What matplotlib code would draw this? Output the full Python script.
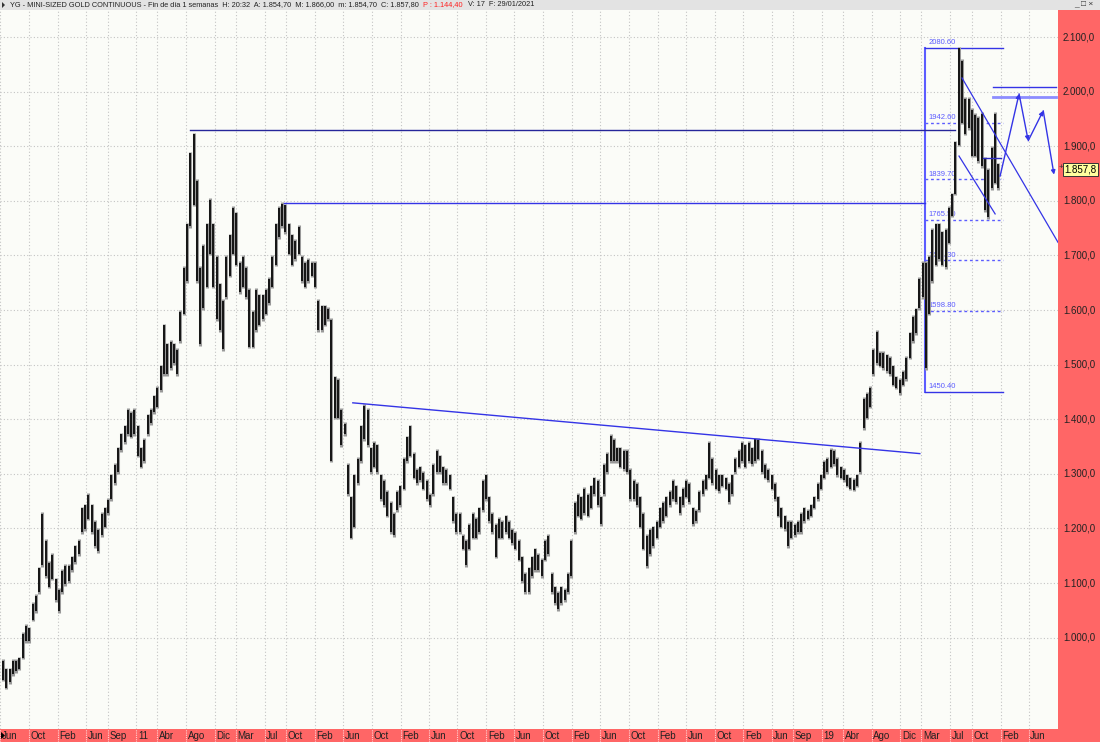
import matplotlib
matplotlib.use('Agg')
import matplotlib.pyplot as plt
from matplotlib.patches import Rectangle
import numpy as np

plt.rcParams['font.family'] = ['Liberation Sans', 'DejaVu Sans']

# YG mini-sized gold, weekly chart.
# One bar per two weeks, (low, high), starting 2009-06-12.
start = np.datetime64('2009-06-12')
bar_days = 14

bars_2009 = [(920, 960), (905, 945), (915, 945), (930, 960), (935, 960), (940, 965),
             (960, 1010), (990, 1025), (990, 1020), (1030, 1065), (1045, 1080),
             (1080, 1130), (1130, 1230), (1110, 1180), (1090, 1140)]
bars_2010 = [(1105, 1155), (1065, 1110), (1045, 1090), (1080, 1125), (1095, 1135),
             (1100, 1135), (1120, 1150), (1135, 1170), (1150, 1180), (1190, 1240),
             (1195, 1245), (1215, 1265), (1190, 1245), (1165, 1215), (1155, 1200),
             (1185, 1230), (1200, 1240), (1225, 1255), (1250, 1300), (1280, 1320),
             (1300, 1350), (1340, 1375), (1355, 1390), (1370, 1420), (1365, 1415),
             (1370, 1420)]
bars_2011 = [(1330, 1390), (1310, 1350), (1320, 1365), (1370, 1410), (1390, 1420),
             (1410, 1445), (1420, 1460), (1450, 1500), (1480, 1575), (1480, 1540),
             (1490, 1545), (1500, 1540), (1480, 1530), (1540, 1600), (1590, 1680),
             (1650, 1760), (1750, 1890), (1790, 1925), (1650, 1840), (1535, 1680),
             (1600, 1720), (1640, 1760), (1700, 1805), (1640, 1760), (1580, 1700),
             (1560, 1650)]
bars_2012 = [(1525, 1620), (1620, 1700), (1660, 1740), (1700, 1790), (1680, 1780),
             (1630, 1690), (1640, 1700), (1620, 1680), (1530, 1640), (1530, 1600),
             (1560, 1640), (1570, 1630), (1580, 1630), (1590, 1640), (1610, 1660),
             (1640, 1700), (1680, 1760), (1730, 1790), (1750, 1797), (1740, 1795),
             (1700, 1760), (1680, 1740), (1690, 1730), (1700, 1755), (1650, 1700),
             (1640, 1690)]
bars_2013 = [(1650, 1695), (1660, 1690), (1640, 1690), (1560, 1620), (1560, 1610),
             (1570, 1610), (1580, 1605), (1321, 1585), (1400, 1480), (1400, 1475),
             (1350, 1420), (1370, 1395), (1260, 1320), (1180, 1260), (1200, 1300),
             (1280, 1330), (1320, 1390), (1360, 1428), (1350, 1420), (1300, 1350),
             (1310, 1360), (1300, 1355), (1250, 1300), (1240, 1290), (1220, 1270),
             (1190, 1250)]
bars_2014 = [(1185, 1230), (1230, 1270), (1240, 1280), (1270, 1330), (1320, 1370),
             (1330, 1390), (1290, 1340), (1280, 1310), (1285, 1315), (1270, 1305),
             (1250, 1290), (1240, 1265), (1260, 1320), (1300, 1345), (1300, 1335),
             (1280, 1315), (1280, 1310), (1270, 1300), (1210, 1260), (1190, 1230),
             (1190, 1230), (1160, 1190), (1130, 1180), (1160, 1210), (1180, 1230),
             (1180, 1220)]
bars_2015 = [(1190, 1240), (1230, 1290), (1250, 1300), (1210, 1260), (1190, 1230),
             (1145, 1210), (1180, 1220), (1180, 1215), (1190, 1225), (1180, 1215),
             (1170, 1200), (1160, 1195), (1140, 1180), (1100, 1150), (1080, 1120),
             (1080, 1130), (1110, 1150), (1120, 1165), (1120, 1155), (1110, 1145),
             (1140, 1180), (1150, 1190), (1080, 1120), (1060, 1095), (1049, 1085),
             (1060, 1095)]
bars_2016 = [(1065, 1090), (1080, 1120), (1110, 1180), (1190, 1250), (1220, 1265),
             (1215, 1260), (1225, 1275), (1220, 1265), (1235, 1280), (1260, 1295),
             (1240, 1290), (1205, 1260), (1260, 1320), (1300, 1340), (1320, 1372),
             (1320, 1365), (1320, 1350), (1310, 1350), (1305, 1345), (1300, 1345),
             (1250, 1310), (1250, 1290), (1240, 1285), (1200, 1260), (1160, 1230),
             (1128, 1190)]
bars_2017 = [(1150, 1200), (1165, 1205), (1180, 1215), (1200, 1240), (1210, 1250),
             (1220, 1260), (1240, 1270), (1250, 1290), (1245, 1280), (1225, 1260),
             (1240, 1275), (1255, 1290), (1245, 1285), (1205, 1240), (1210, 1235),
             (1230, 1270), (1260, 1290), (1270, 1300), (1290, 1360), (1280, 1330),
             (1270, 1310), (1265, 1300), (1275, 1300), (1270, 1295), (1245, 1285),
             (1260, 1300)]
bars_2018 = [(1300, 1330), (1310, 1345), (1320, 1360), (1310, 1355), (1320, 1360),
             (1315, 1350), (1320, 1366), (1325, 1365), (1300, 1345), (1290, 1320),
             (1285, 1310), (1270, 1300), (1250, 1285), (1220, 1260), (1200, 1240),
             (1195, 1225), (1165, 1215), (1180, 1215), (1185, 1210), (1190, 1215),
             (1190, 1230), (1210, 1240), (1215, 1235), (1220, 1245), (1235, 1260),
             (1250, 1285)]
bars_2019 = [(1270, 1300), (1290, 1325), (1300, 1330), (1310, 1347), (1315, 1345),
             (1295, 1330), (1290, 1315), (1285, 1310), (1275, 1300), (1270, 1295),
             (1268, 1292), (1275, 1300), (1300, 1360), (1380, 1440), (1400, 1450),
             (1420, 1460), (1480, 1530), (1500, 1563), (1495, 1525), (1490, 1525),
             (1485, 1520), (1480, 1515), (1460, 1500), (1455, 1480), (1445, 1475),
             (1460, 1490)]
bars_2020 = [(1470, 1515), (1510, 1560), (1540, 1590), (1555, 1604), (1600, 1660),
             (1620, 1690), (1490, 1690), (1590, 1700), (1650, 1750), (1680, 1760),
             (1690, 1760), (1680, 1745), (1675, 1750), (1720, 1790), (1770, 1815),
             (1810, 1910), (1900, 2082), (1940, 2060), (1920, 1990), (1930, 1990),
             (1880, 1970), (1880, 1960), (1870, 1955), (1860, 1962), (1780, 1880),
             (1767, 1860), (1820, 1900)]
bars_2021 = [(1830, 1962), (1820, 1870)]

month_ticks = [('2009-06-01', 'Jun'), ('2009-10-01', 'Oct'), ('2010-02-01', 'Feb'),
               ('2010-06-01', 'Jun'), ('2010-09-01', 'Sep'), ('2011-01-01', '11'),
               ('2011-04-01', 'Abr'), ('2011-08-01', 'Ago'), ('2011-12-01', 'Dic'),
               ('2012-03-01', 'Mar'), ('2012-07-01', 'Jul'), ('2012-10-01', 'Oct'),
               ('2013-02-01', 'Feb'), ('2013-06-01', 'Jun'), ('2013-10-01', 'Oct'),
               ('2014-02-01', 'Feb'), ('2014-06-01', 'Jun'), ('2014-10-01', 'Oct'),
               ('2015-02-01', 'Feb'), ('2015-06-01', 'Jun'), ('2015-10-01', 'Oct'),
               ('2016-02-01', 'Feb'), ('2016-06-01', 'Jun'), ('2016-10-01', 'Oct'),
               ('2017-02-01', 'Feb'), ('2017-06-01', 'Jun'), ('2017-10-01', 'Oct'),
               ('2018-02-01', 'Feb'), ('2018-06-01', 'Jun'), ('2018-09-01', 'Sep'),
               ('2019-01-01', '19'), ('2019-04-01', 'Abr'), ('2019-08-01', 'Ago'),
               ('2019-12-01', 'Dic'), ('2020-03-01', 'Mar'), ('2020-07-01', 'Jul'),
               ('2020-10-01', 'Oct'), ('2021-02-01', 'Feb'), ('2021-06-01', 'Jun')]
price_ticks = list(range(1000, 2101, 100))
view_dates = ('2009-05-30', '2021-10-04')
view_prices = (832.6, 2149.5)

# drawings on the chart
res_2011 = ('2011-08-19', '2020-07-22', 1930)
res_2012 = ('2012-09-22', '2020-03-17', 1796)
trend_13_20 = [('2013-07-12', 1430), ('2020-02-23', 1337)]
fib_dates = ('2020-03-17', '2021-02-12')
fib_levels = [2080.6, 1942.6, 1839.7, 1765.5, 1691.3, 1598.8, 1450.4]
small_level = ('2020-11-19', '2021-02-03', 1878)
channel_top = [('2020-08-21', 2025), ('2021-10-04', 1724)]
channel_bot = [('2020-08-08', 1882), ('2021-01-09', 1776)]
target_hi = ('2020-12-31', '2021-09-26', 2009)
target_lo = ('2020-12-31', '2021-09-26', 1991)
projection = [('2021-01-30', 1845), ('2021-04-21', 1996), ('2021-05-30', 1910),
              ('2021-08-02', 1965), ('2021-09-17', 1848)]
last_close = 1857.8

header = 'YG - MINI-SIZED GOLD CONTINUOUS - Fin de día 1 semanas  H: 20:32  A: 1.854,70  M: 1.866,00  m: 1.854,70  C: 1.857,80'
header_red = 'P : 1.144,40'
header_end = 'V: 17  F: 29/01/2021'


def pos(d):
    return (np.datetime64(d) - start) / np.timedelta64(bar_days, 'D')


def es_num(v):
    return f'{v:,.1f}'.replace(',', ' ').replace('.', ',').replace(' ', '.')


BLUE = '#3434e6'
FIB = '#5c5cff'

all_bars = (bars_2009 + bars_2010 + bars_2011 + bars_2012 + bars_2013 + bars_2014 +
            bars_2015 + bars_2016 + bars_2017 + bars_2018 + bars_2019 + bars_2020 + bars_2021)
lo = np.array([b[0] for b in all_bars])
hi = np.array([b[1] for b in all_bars])
x = np.arange(len(all_bars))

fig = plt.figure(figsize=(11, 7.42), dpi=100)
fig.patch.set_facecolor('#ff6666')
ax = fig.add_axes([0, 13 / 742, 1058 / 1100, 719 / 742])
ax.set_facecolor('#fbfcf8')
ax.set_xlim(pos(view_dates[0]), pos(view_dates[1]))
ax.set_ylim(*view_prices)
ax.set_xticks([])
ax.set_yticks([])
for s in ax.spines.values():
    s.set_visible(False)

# grid
for p in price_ticks:
    ax.axhline(p, color='#c4c4c4', lw=0.8, ls=(0, (1, 2)), zorder=0)
for d, lab in month_ticks:
    xp = pos(d)
    ax.axvline(xp, color='#c4c4c4', lw=0.8, ls=(0, (1, 2)), zorder=0)
    ax.plot([xp, xp], [-0.018, 0], transform=ax.get_xaxis_transform(), color='#ffd0d0',
            lw=0.8, ls=(0, (1, 1)), clip_on=False)
    ax.text(xp + 0.5, -0.0095, lab, transform=ax.get_xaxis_transform(), ha='left',
            va='center', fontsize=7, color='#222222', clip_on=False)

# price bars: grey halo + dark core
ax.vlines(x, lo, hi, color='#999999', lw=2.2, zorder=3)
ax.vlines(x, lo + 3, hi - 3, color='#141414', lw=1.4, zorder=3)

# horizontal resistances and trendline
ax.plot([pos(res_2011[0]), pos(res_2011[1])], [res_2011[2]] * 2, color='#26269a', lw=1, zorder=4)
ax.plot([pos(res_2012[0]), pos(res_2012[1])], [res_2012[2]] * 2, color=BLUE, lw=1, zorder=4)
ax.plot([pos(d) for d, _ in trend_13_20], [p for _, p in trend_13_20], color=BLUE, lw=1, zorder=4)

# fibonacci box
f0, f1 = pos(fib_dates[0]), pos(fib_dates[1])
ax.plot([f0, f0], [fib_levels[-1], fib_levels[0]], color=FIB, lw=1.5, zorder=2)
for i, lv in enumerate(fib_levels):
    solid = i in (0, len(fib_levels) - 1)
    ax.plot([f0, f1], [lv, lv], color=BLUE if solid else FIB, lw=1,
            ls='-' if solid else (0, (2, 2)), zorder=2)
    ax.text(f0 + 0.9, lv + 3, f'{lv:.2f}', color=FIB, fontsize=5.5, ha='left',
            va='bottom', zorder=2)

ax.plot([pos(small_level[0]), pos(small_level[1])], [small_level[2]] * 2, color='#2c2cc0', lw=1, zorder=4)
ax.plot([pos(d) for d, _ in channel_top], [p for _, p in channel_top], color=BLUE, lw=0.9, zorder=4)
ax.plot([pos(d) for d, _ in channel_bot], [p for _, p in channel_bot], color=BLUE, lw=0.9, zorder=4)
ax.plot([pos(target_hi[0]), pos(target_hi[1])], [target_hi[2]] * 2, color=BLUE, lw=1, zorder=4)
ax.plot([pos(target_lo[0]), pos(target_lo[1])], [target_lo[2]] * 2, color='#8c8cff', lw=2, zorder=4)

# projected path with arrows
for (d0, p0), (d1, p1) in zip(projection[:-1], projection[1:]):
    ax.annotate('', xy=(pos(d1), p1), xytext=(pos(d0), p0),
                arrowprops=dict(arrowstyle='-|>', color=BLUE, lw=1, mutation_scale=6,
                                shrinkA=0, shrinkB=0), zorder=4)

# right price scale
ytr = ax.get_yaxis_transform()
for p in price_ticks:
    ax.text(1.0047, p, es_num(p), transform=ytr, ha='left', va='center', fontsize=7,
            color='#222222', clip_on=False)
ax.text(1.0062, last_close, es_num(last_close), transform=ytr, ha='left', va='center',
        fontsize=7, color='black', clip_on=False,
        bbox=dict(boxstyle='square,pad=0.15', facecolor='#ffff9e', edgecolor='#333333', lw=0.7))
ax.text(1.0005, last_close + 4, '+', transform=ytr, ha='left', va='center', fontsize=6,
        color='#333333', clip_on=False)

# header bar
fig.patches.append(Rectangle((0, 732 / 742), 1, 10 / 742, transform=fig.transFigure,
                             facecolor='#e3e3e3', edgecolor='none', zorder=0))
hy = 737 / 742
t1 = fig.text(10 / 1100, hy, header, fontsize=5.35, color='#222222', va='center', ha='left')
fig.canvas.draw()
x1 = t1.get_window_extent().x1 + 4
t2 = fig.text(x1 / 1100, hy, header_red, fontsize=5.35, color='#ff2020', va='center', ha='left')
fig.canvas.draw()
x2 = t2.get_window_extent().x1 + 5
fig.text(x2 / 1100, hy, header_end, fontsize=5.35, color='#222222', va='center', ha='left')
fig.patches.append(plt.Polygon([[2 / 1100, 734 / 742], [2 / 1100, 740 / 742], [5 / 1100, 737 / 742]],
                               closed=True, transform=fig.transFigure, facecolor='#333333'))
fig.text(1074 / 1100, hy, '_ □ ×', fontsize=6, color='#333333', va='center', ha='left')
fig.patches.append(plt.Polygon([[1 / 1100, 3 / 742], [1 / 1100, 10 / 742], [5 / 1100, 6.5 / 742]],
                               closed=True, transform=fig.transFigure, facecolor='black'))

fig.savefig('out.png', dpi=100, facecolor=fig.get_facecolor())
